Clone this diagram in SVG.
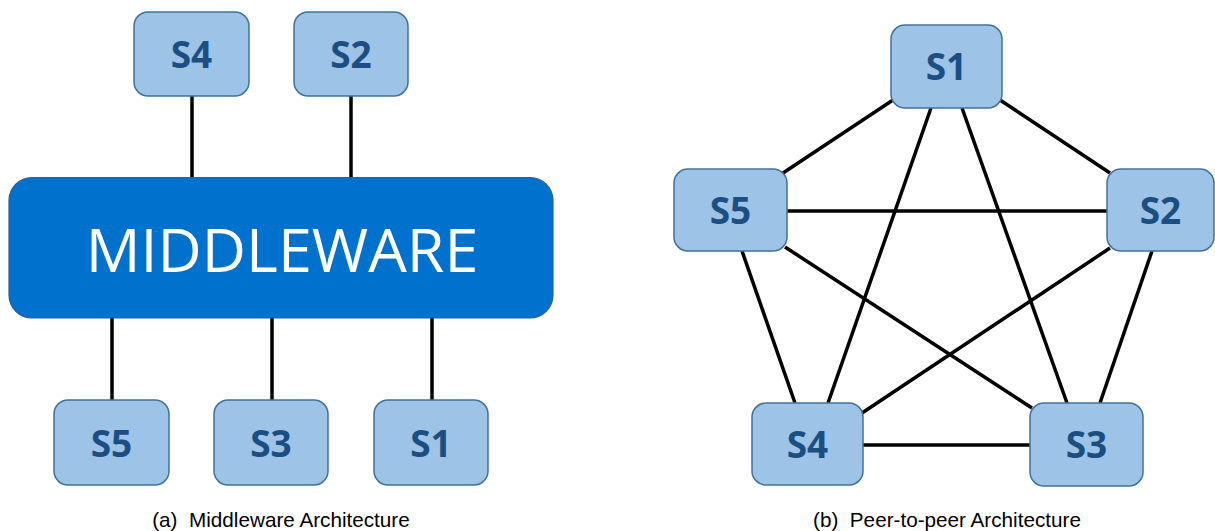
<svg xmlns="http://www.w3.org/2000/svg" width="1215" height="531" viewBox="0 0 1215 531">
<style>
.box{fill:#9DC3E6;stroke:#41719C;stroke-width:1.5}
.lbl{font-family:"Open Sans","Liberation Sans",sans-serif;font-weight:bold;font-size:37px;fill:#1B4F82;text-anchor:middle}
.edge{stroke:#000;stroke-width:3.5;fill:none}
.cap{font-family:"Liberation Sans",Arial,sans-serif;font-size:20.7px;fill:#000;text-anchor:middle}
</style>
<rect width="1215" height="531" fill="#fff"/>
<g id="connectors">
<line class="edge" x1="192" y1="96" x2="192" y2="178"/>
<line class="edge" x1="351" y1="96" x2="351" y2="178"/>
<line class="edge" x1="112" y1="317" x2="112" y2="400"/>
<line class="edge" x1="272" y1="317" x2="272" y2="400"/>
<line class="edge" x1="432" y1="317" x2="432" y2="400"/>
<line class="edge" x1="893" y1="100" x2="783" y2="173"/>
<line class="edge" x1="1000" y1="100" x2="1110" y2="173"/>
<line class="edge" x1="931" y1="108" x2="828" y2="403"/>
<line class="edge" x1="962" y1="108" x2="1067" y2="403"/>
<line class="edge" x1="742" y1="251" x2="795" y2="403"/>
<line class="edge" x1="1152" y1="251" x2="1100" y2="403"/>
<line class="edge" x1="785" y1="247" x2="1032" y2="408"/>
<line class="edge" x1="1110" y1="248" x2="862" y2="413"/>
<line class="edge" x1="787" y1="211" x2="1107" y2="211"/>
<line class="edge" x1="863" y1="445" x2="1030" y2="445"/>
</g>
<g id="middleware">
<rect x="9" y="177.5" width="544" height="140.5" rx="23" fill="#0071CD" stroke="#2A5F95" stroke-width="1.2"/>
<text x="282" y="272" font-family="'Open Sans','Liberation Sans',sans-serif" font-size="61" fill="#fff" text-anchor="middle">MIDDLEWARE</text>
</g>
<g id="a-s4"><rect class="box" x="134" y="12" width="115" height="84" rx="14"/><text class="lbl" x="191.5" y="67.5">S4</text></g>
<g id="a-s2"><rect class="box" x="294" y="12" width="114" height="84" rx="14"/><text class="lbl" x="351" y="67.5">S2</text></g>
<g id="a-s5"><rect class="box" x="54" y="400" width="115" height="85" rx="14"/><text class="lbl" x="111.5" y="456.5">S5</text></g>
<g id="a-s3"><rect class="box" x="214" y="400" width="114" height="85" rx="14"/><text class="lbl" x="271" y="456.5">S3</text></g>
<g id="a-s1"><rect class="box" x="374" y="400" width="114" height="85" rx="14"/><text class="lbl" x="431" y="456.5">S1</text></g>
<g id="b-s1"><rect class="box" x="891" y="25" width="111" height="83" rx="14"/><text class="lbl" x="946.5" y="80">S1</text></g>
<g id="b-s5"><rect class="box" x="674" y="169" width="113" height="82" rx="14"/><text class="lbl" x="730.5" y="223.5">S5</text></g>
<g id="b-s2"><rect class="box" x="1107" y="169" width="107" height="82" rx="14"/><text class="lbl" x="1160.5" y="223.5">S2</text></g>
<g id="b-s4"><rect class="box" x="752" y="403" width="111" height="82" rx="14"/><text class="lbl" x="807.5" y="457.5">S4</text></g>
<g id="b-s3"><rect class="box" x="1030" y="403" width="113" height="83" rx="14"/><text class="lbl" x="1086.5" y="458">S3</text></g>
<g id="captions">
<text class="cap" x="281" y="527" xml:space="preserve">(a)  Middleware Architecture</text>
<text class="cap" x="947" y="527" xml:space="preserve">(b)  Peer-to-peer Architecture</text>
</g>
</svg>
